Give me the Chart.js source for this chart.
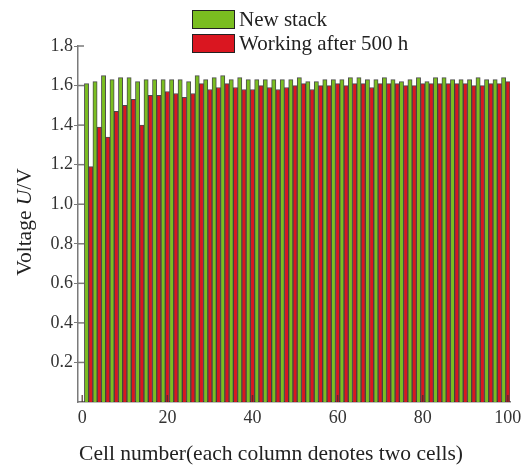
<!DOCTYPE html>
<html>
<head>
<meta charset="utf-8">
<script src="https://cdn.jsdelivr.net/npm/chart.js@4.4.0/dist/chart.umd.min.js"></script>
<style>
    html, body { margin: 0; padding: 0; background: #fff; }
    #wrap { position: relative; width: 528px; height: 468px; }
    #legend { position: absolute; left: 192px; top: 7px; font-family: "Liberation Serif", serif; font-size: 21px; color: #222; }
    #legend .item { display: flex; align-items: center; height: 24.5px; }
    #legend .box { width: 43px; height: 19px; border: 1px solid #222; box-sizing: border-box; margin-right: 4px; }
</style>
</head>
<body>
<div id="wrap">
    <canvas id="myChart" width="528" height="468"></canvas>
    <div id="legend"></div>
</div>
<script>
// cell voltage per column (each column = two cells), 50 columns
const newStack = [
    1.61, 1.62, 1.65, 1.63, 1.64, 1.64, 1.62, 1.63, 1.63, 1.63,
    1.63, 1.63, 1.62, 1.65, 1.63, 1.64, 1.65, 1.63, 1.64, 1.63,
    1.63, 1.63, 1.63, 1.63, 1.63, 1.64, 1.62, 1.62, 1.63, 1.63,
    1.63, 1.64, 1.64, 1.63, 1.63, 1.64, 1.63, 1.62, 1.63, 1.64,
    1.62, 1.64, 1.64, 1.63, 1.63, 1.63, 1.64, 1.63, 1.63, 1.64
];
const after500h = [
    1.19, 1.39, 1.34, 1.47, 1.50, 1.53, 1.40, 1.55, 1.55, 1.57,
    1.56, 1.54, 1.56, 1.61, 1.58, 1.59, 1.61, 1.59, 1.58, 1.58,
    1.60, 1.59, 1.58, 1.59, 1.60, 1.61, 1.58, 1.60, 1.60, 1.61,
    1.60, 1.61, 1.61, 1.59, 1.61, 1.61, 1.61, 1.60, 1.60, 1.61,
    1.61, 1.61, 1.61, 1.61, 1.61, 1.60, 1.60, 1.61, 1.61, 1.62
];
const xTicks = [0, 20, 40, 60, 80, 100];
const yTicks = [0.2, 0.4, 0.6, 0.8, 1.0, 1.2, 1.4, 1.6, 1.8];

const serif = '"Liberation Serif", "Times New Roman", serif';
const axisColor = '#7a7a7a';
const titleSize = 21.5;

// column i covers cells 2i+1 and 2i+2, so it sits at their midpoint
function toPoints(values) {
    return values.map((v, i) => ({ x: 2 * (i + 1) - 0.5, y: v }));
}

const axisExtras = {
    id: 'axisExtras',
    beforeDatasetsDraw(chart) {
        const { ctx, chartArea, scales } = chart;
        ctx.save();
        ctx.strokeStyle = axisColor;
        ctx.lineWidth = 1.5;
        yTicks.forEach(v => {
            const py = scales.y.getPixelForValue(v);
            ctx.beginPath();
            ctx.moveTo(chartArea.left, py);
            ctx.lineTo(chartArea.left + 6, py);
            ctx.stroke();
        });
        ctx.restore();
    },
    afterDatasetsDraw(chart) {
        const { ctx, chartArea, scales } = chart;
        ctx.save();
        ctx.strokeStyle = 'rgba(70,40,40,0.75)';
        ctx.lineWidth = 1.5;
        xTicks.forEach(v => {
            const px = scales.x.getPixelForValue(v);
            ctx.beginPath();
            ctx.moveTo(px, chartArea.bottom);
            ctx.lineTo(px, chartArea.bottom - 7);
            ctx.stroke();
        });
        ctx.restore();
    },
    afterDraw(chart) {
        const { ctx } = chart;
        ctx.save();
        ctx.fillStyle = '#222';
        ctx.textBaseline = 'middle';

        // x title
        ctx.font = titleSize + 'px ' + serif;
        ctx.textAlign = 'center';
        ctx.fillText('Cell number(each column denotes two cells)', 271, 454);

        // y title, with the U in italics
        const parts = [['Voltage ', ''], ['U', 'italic '], ['/V', '']];
        const widths = parts.map(p => { ctx.font = p[1] + titleSize + 'px ' + serif; return ctx.measureText(p[0]).width; });
        const total = widths.reduce((a, b) => a + b, 0);
        ctx.translate(25, 222);
        ctx.rotate(-Math.PI / 2);
        ctx.textAlign = 'left';
        let pos = -total / 2;
        parts.forEach((p, i) => {
            ctx.font = p[1] + titleSize + 'px ' + serif;
            ctx.fillText(p[0], pos, 0);
            pos += widths[i];
        });
        ctx.restore();
    }
};

const ctx = document.getElementById('myChart').getContext('2d');
const stackChart = new Chart(ctx, {
    type: 'bar',
    data: {
        datasets: [{
            label: 'New stack',
            data: toPoints(newStack),
            backgroundColor: 'rgb(122, 190, 32)',
            borderColor: 'rgba(45, 45, 45, 0.85)',
            borderWidth: 1
        }, {
            label: 'Working after 500 h',
            data: toPoints(after500h),
            backgroundColor: 'rgb(218, 22, 32)',
            borderColor: 'rgba(45, 45, 45, 0.85)',
            borderWidth: 1
        }]
    },
    options: {
        responsive: false,
        animation: false,
        events: [],
        datasets: {
            bar: { categoryPercentage: 1, barPercentage: 1 }
        },
        layout: { padding: { left: 0, top: 46, right: 18, bottom: 0 } },
        plugins: {
            legend: { display: false },
            tooltip: { enabled: false }
        },
        scales: {
            x: {
                type: 'linear',
                offset: false,
                min: -1,
                max: 100.5,
                afterBuildTicks: s => { s.ticks = xTicks.map(v => ({ value: v })); },
                afterFit: s => { s.height = 66; },
                grid: { offset: false, drawOnChartArea: false, drawTicks: false, color: axisColor },
                border: { color: axisColor, width: 1.5 },
                ticks: {
                    padding: 5,
                    maxRotation: 0,
                    color: '#333',
                    font: { family: serif, size: 18 },
                    callback: v => String(v)
                }
            },
            y: {
                min: 0,
                max: 1.8,
                afterBuildTicks: s => { s.ticks = yTicks.map(v => ({ value: v })); },
                afterFit: s => { s.width = 78; },
                grid: { drawOnChartArea: false, tickLength: 4, color: axisColor },
                border: { color: axisColor, width: 1.5 },
                ticks: {
                    padding: 1,
                    color: '#333',
                    font: { family: serif, size: 18 },
                    callback: v => v.toFixed(1)
                }
            }
        }
    },
    plugins: [axisExtras]
});

// legend stacked in two rows above the plot
document.getElementById('legend').innerHTML = stackChart.data.datasets.map(ds =>
    '<div class="item"><span class="box" style="background:' + ds.backgroundColor + '"></span>' + ds.label + '</div>'
).join('');
</script>
</body>
</html>
